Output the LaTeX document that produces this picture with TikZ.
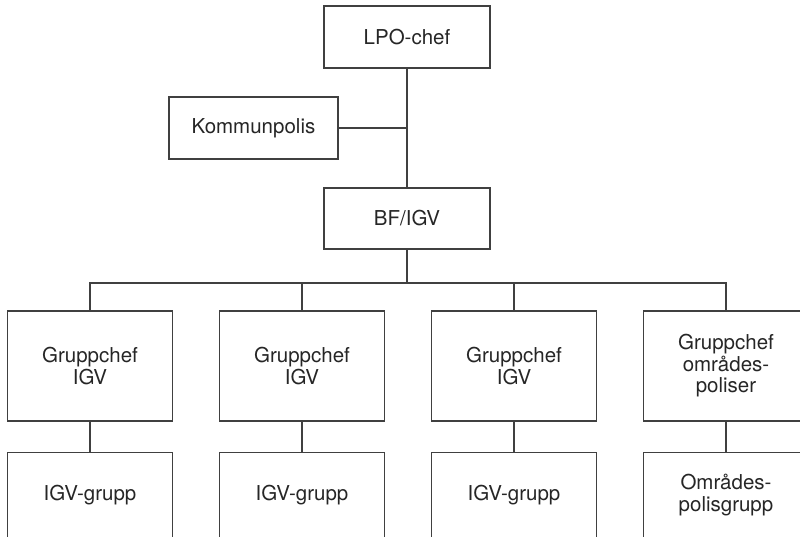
\documentclass[tikz,border=0pt]{standalone}
\usepackage{fontspec}
\setmainfont{TeX Gyre Heros}
\begin{document}
\begin{tikzpicture}[x=1pt,y=-1pt,
  every node/.style={font=\fontsize{20.5}{21.5}\selectfont, text=black!85, align=center, inner sep=0pt},
  orgbox/.style={draw=black!75, line width=1.1pt, rectangle},
  topbox/.style={orgbox, minimum width=166pt, minimum height=62pt},
  colbox/.style={orgbox, minimum width=165pt, minimum height=110pt},
  link/.style={draw=black!75, line width=1.1pt}]
\useasboundingbox (0,0) rectangle (800,537);
\clip (0,0) rectangle (800,537);

% management levels
\node[topbox] (lpo) at (407,37) {LPO-chef};
\node[topbox, minimum width=169pt] (kp) at (253.5,128) {Kommunpolis};
\node[topbox, minimum height=61pt] (bf) at (407,218.5) {BF/IGV};

% group leaders
\node[colbox] (g1) at (90,366) {Gruppchef\\IGV};
\node[colbox] (g2) at (302,366) {Gruppchef\\IGV};
\node[colbox] (g3) at (514,366) {Gruppchef\\IGV};
\node[colbox] (g4) at (726,366) {Gruppchef\\områdes-\\poliser};

% groups (boxes run past the lower edge)
\node[minimum width=165pt, minimum height=84pt] (t1) at (90,495) {IGV-grupp};
\node[minimum width=165pt, minimum height=84pt] (t2) at (302,495) {IGV-grupp};
\node[minimum width=165pt, minimum height=84pt] (t3) at (514,495) {IGV-grupp};
\node[minimum width=165pt, minimum height=84pt] (t4) at (726,495) {Områdes-\\polisgrupp};
\foreach \t in {t1,t2,t3,t4}
  \draw[link] ([yshift=-30pt]\t.south west) -- (\t.north west) -- (\t.north east) -- ([yshift=-30pt]\t.south east);

% connectors
\coordinate (j) at (lpo.south |- kp.east);
\coordinate (bar) at (407,283);
\draw[link] (lpo.south) -- (bf.north);
\draw[link] (kp.east) -- (j);
\draw[link] (bf.south) -- (bar);
\draw[link] (g1.north) |- (bar) -| (g4.north);
\foreach \g in {g2,g3}
  \draw[link] (\g.north) -- (\g.north |- bar);
\foreach \g/\t in {g1/t1,g2/t2,g3/t3,g4/t4}
  \draw[link] (\g.south) -- (\t.north);
\end{tikzpicture}
\end{document}
